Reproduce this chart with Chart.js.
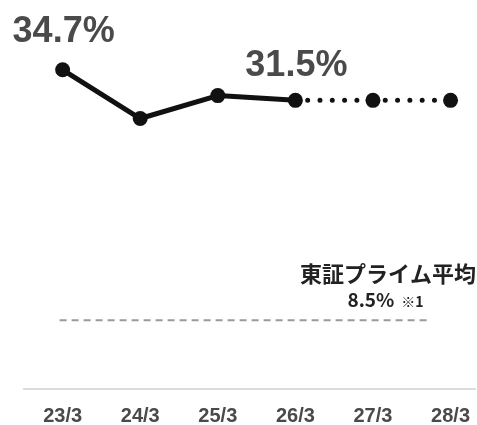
<!DOCTYPE html>
<html>
<head>
<meta charset="utf-8">
<script src="https://cdn.jsdelivr.net/npm/chart.js@4.4.1/dist/chart.umd.min.js"></script>
<style>
html,body{margin:0;padding:0;background:#fff;}
#c{display:block;}
</style>
</head>
<body>
<canvas id="c" width="477" height="425"></canvas>
<script>
// ---- data ----
const categories = ['23/3', '24/3', '25/3', '26/3', '27/3', '28/3'];
const ratioValues = [34.7, 29.6, 32.0, 31.5, 31.5, 31.5];
const actualCount = 4; // first 4 are actuals, rest are targets (dotted)
const labelledIndices = [0, 3];
const primeAverage = 8.5;
const averageTitle = '東証プライム平均';
const averageNote = '※1';

const labelPlugin = {
  id: 'labels',
  afterDraw(chart) {
    const ctx = chart.ctx;
    const xs = chart.scales.x, ys = chart.scales.y;
    ctx.save();
    // value labels
    ctx.fillStyle = '#4a4a4a';
    ctx.font = 'bold 36px "Liberation Sans", Arial, sans-serif';
    ctx.textAlign = 'center';
    ctx.textBaseline = 'alphabetic';
    const offsets = {0: 28, 3: 24};
    labelledIndices.forEach(i => {
      const x = xs.getPixelForValue(i);
      const y = ys.getPixelForValue(ratioValues[i]);
      ctx.fillText(ratioValues[i].toFixed(1) + '%', x + 1, y - offsets[i]);
    });
    // average line
    const ay = ys.getPixelForValue(primeAverage);
    ctx.strokeStyle = '#9a9a9a';
    ctx.lineWidth = 2;
    ctx.setLineDash([7, 5]);
    ctx.beginPath();
    ctx.moveTo(xs.getPixelForValue(0) - 3, ay);
    ctx.lineTo(xs.getPixelForValue(4.75), ay);
    ctx.stroke();
    ctx.setLineDash([]);
    // average title
    ctx.fillStyle = '#222';
    ctx.font = 'bold 22px "Noto Sans CJK JP", sans-serif';
    ctx.textAlign = 'center';
    ctx.fillText(averageTitle, 388, ay - 38.5);
    const f1 = 'bold 19px "Noto Sans CJK JP", sans-serif';
    const f2 = 'bold 14px "Noto Sans CJK JP", sans-serif';
    const t1 = primeAverage.toFixed(1) + '%';
    ctx.font = f1; const w1 = ctx.measureText(t1).width + 7;
    ctx.font = f2; const w2 = ctx.measureText(averageNote).width;
    const sx = 385.5 - (w1 + w2) / 2;
    ctx.textAlign = 'left';
    ctx.font = f1; ctx.fillText(t1, sx, ay - 13);
    ctx.font = f2; ctx.fillText(averageNote, sx + w1, ay - 13);
    ctx.restore();
  }
};

new Chart(document.getElementById('c'), {
  type: 'line',
  data: {
    datasets: [{
      data: ratioValues.map((v, i) => ({x: i, y: v})),
      borderColor: '#111',
      backgroundColor: '#111',
      borderWidth: 5,
      borderCapStyle: 'round',
      borderJoinStyle: 'round',
      pointRadius: 7.5,
      pointBackgroundColor: '#111',
      pointBorderWidth: 0,
      tension: 0,
      clip: false,
      segment: {
        // dotted for forecast; slight per-segment variation restarts the pattern at each point
        borderDash: c => c.p0DataIndex >= actualCount - 1 ? [0, 12.3 + c.p0DataIndex * 0.001] : undefined
      }
    }]
  },
  options: {
    responsive: false,
    animation: false,
    devicePixelRatio: 1,
    layout: {autoPadding: false, padding: {left: 24, right: 0, top: 0, bottom: 0}},
    plugins: {legend: {display: false}, tooltip: {enabled: false}},
    scales: {
      x: {
        type: 'linear',
        min: -0.498,
        max: 5.321,
        afterBuildTicks: s => { s.ticks = categories.map((_, i) => ({value: i})); },
        afterFit: s => { s.height = 36; },
        grid: {display: false},
        border: {display: true, color: '#dcdcdc', width: 2},
        ticks: {
          autoSkip: false,
          maxRotation: 0,
          padding: 7,
          color: '#4a4a4a',
          font: {family: '"Liberation Sans", Arial, sans-serif', size: 20, weight: 'bold'},
          callback: v => categories[v]
        }
      },
      y: {display: false, min: 1.3, max: 42}
    }
  },
  plugins: [labelPlugin]
});
</script>
</body>
</html>
